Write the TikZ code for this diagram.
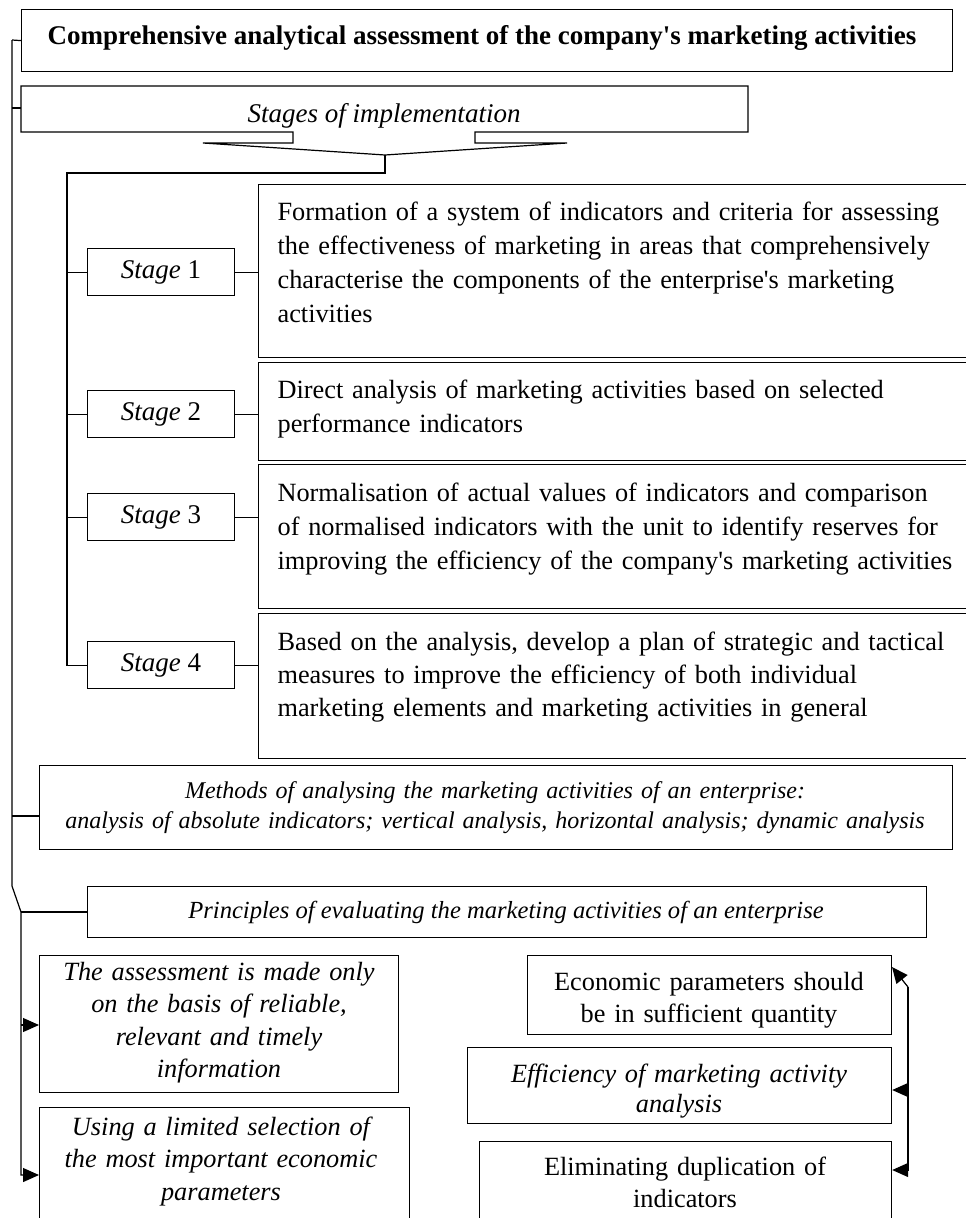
\documentclass[tikz,border=0pt]{standalone}
\usepackage{fontspec}
\setmainfont{Liberation Serif}
\usetikzlibrary{arrows.meta}
\newcommand{\ap}{\textquotesingle}
\begin{document}
\begin{tikzpicture}[x=1pt,y=-1pt,
  line width=1.2pt,
  box/.style={draw, line width=1.2pt, inner sep=0pt, anchor=north west},
  big/.style={inner sep=0pt, font=\fontsize{26.3}{34}\selectfont},
  mid/.style={inner sep=0pt, font=\fontsize{26.3}{32.5}\selectfont},
  small/.style={inner sep=0pt, font=\fontsize{24}{30}\selectfont\itshape},
  arr/.style={-{Triangle[length=16pt,width=14pt]}},
]
\useasboundingbox (0,0) rectangle (966,1218);
\clip (0,0) rectangle (966,1218);

% title
\node[box, minimum width=931, minimum height=62] (title) at (21,9) {};
\node[inner sep=0pt, font=\fontsize{27}{34}\selectfont\bfseries, anchor=base] (titleT) at (482,44)
  {Comprehensive analytical assessment of the company\ap s marketing activities};

% stages banner with its pointer
\coordinate (tip) at (385,155);
\draw (21,86) -- (748,86) -- (748,132) -- (475,132) -- (475,143) -- (567,143)
  -- (tip) -- (203,143) -- (293,143) -- (293,132) -- (21,132) -- cycle;
\node[inner sep=0pt, font=\fontsize{27}{34}\selectfont\itshape, anchor=base] (stagesT) at (384,122)
  {Stages of implementation};
\coordinate (stagesL) at (21,108);

% stage boxes
\node[box, big, font=\fontsize{27}{34}\selectfont, minimum width=147, minimum height=47] (s1) at (87,248) {\textit{Stage} 1};
\node[box, big, font=\fontsize{27}{34}\selectfont, minimum width=147, minimum height=47] (s2) at (87,390) {\textit{Stage} 2};
\node[box, big, font=\fontsize{27}{34}\selectfont, minimum width=147, minimum height=47] (s3) at (87,493) {\textit{Stage} 3};
\node[box, big, font=\fontsize{27}{34}\selectfont, minimum width=147, minimum height=47] (s4) at (87,641) {\textit{Stage} 4};

% stage descriptions
\node[box, minimum width=722, minimum height=173] (t1) at (258,184) {};
\node[box, minimum width=722, minimum height=98] (t2) at (258,362) {};
\node[box, minimum width=722, minimum height=144] (t3) at (258,464) {};
\node[box, minimum width=722, minimum height=145] (t4) at (258,613) {};

\node[big, text width=700, align=left, anchor=base west] (t1T) at (277,220)
  {Formation of a system of indicators and criteria for assessing\\
   the effectiveness of marketing in areas that comprehensively\\
   characterise the components of the enterprise\ap s marketing\\
   activities};
\node[big, text width=700, align=left, anchor=base west] (t2T) at (277,398)
  {Direct analysis of marketing activities based on selected\\
   performance indicators};
\node[big, text width=700, align=left, anchor=base west] (t3T) at (277,501)
  {Normalisation of actual values of indicators and comparison\\
   of normalised indicators with the unit to identify reserves for\\
   improving the efficiency of the company\ap s marketing activities};
\node[big, font=\fontsize{26.3}{33}\selectfont, text width=700, align=left, anchor=base west] (t4T) at (277,650)
  {Based on the analysis, develop a plan of strategic and tactical\\
   measures to improve the efficiency of both individual\\
   marketing elements and marketing activities in general};

% stage links
\foreach \i in {1,2,3,4} \draw (s\i.east) -- (s\i.east -| t\i.west);
\coordinate (busTop) at (67,173);
\draw (tip) |- (busTop) |- (s4.west);
\foreach \i in {1,2,3} \draw (busTop |- s\i.west) -- (s\i.west);

% methods and principles
\node[box, minimum width=913, minimum height=84] (meth) at (39,765) {};
\node[small, text width=900, align=center, anchor=base] (methT) at (495,798)
  {Methods of analysing the marketing activities of an enterprise:\\
   analysis of absolute indicators; vertical analysis, horizontal analysis; dynamic analysis};
\node[box, minimum width=839, minimum height=51] (prin) at (87,886) {};
\node[small, font=\fontsize{24.6}{30}\selectfont\itshape, anchor=base] (prinT) at (506,918)
  {Principles of evaluating the marketing activities of an enterprise};

% principles, left column
\node[box, minimum width=359, minimum height=137] (pa) at (39,955) {};
\node[mid, font=\fontsize{26.3}{32.5}\selectfont\itshape, text width=350, align=center, anchor=base] (paT) at (219,980)
  {The assessment is made only\\ on the basis of reliable,\\ relevant and timely\\ information};
\node[box, minimum width=370, minimum height=140] (pb) at (39,1107) {};
\node[mid, font=\fontsize{26.3}{32.5}\selectfont\itshape, text width=360, align=center, anchor=base] (pbT) at (221,1135)
  {Using a limited selection of\\ the most important economic\\ parameters};

% principles, right column
\node[box, minimum width=364, minimum height=79] (pc) at (527,955) {};
\node[mid, text width=360, align=center, anchor=base] (pcT) at (709,990)
  {Economic parameters should\\ be in sufficient quantity};
\node[box, minimum width=424, minimum height=76] (pd) at (467,1047) {};
\node[mid, font=\fontsize{26.3}{30}\selectfont\itshape, text width=420, align=center, anchor=base] (pdT) at (679,1082)
  {Efficiency of marketing activity\\ analysis};
\node[box, minimum width=412, minimum height=110] (pe) at (479,1141) {};
\node[mid, text width=400, align=center, anchor=base] (peT) at (685,1175)
  {Eliminating duplication of\\ indicators};

% main left spine
\coordinate (spTop) at (12,40);
\coordinate (spBend) at (12,886);
\coordinate (spFoot) at (21,912);
\coordinate (spEnd) at (21,1175);
\draw[arr] (spTop) -- (spBend) -- (spFoot) -- (spEnd) -- (spEnd -| pb.west);
\draw (spTop) -- (title.west);
\draw (spTop |- stagesL) -- (stagesL);
\draw (12,816) -- (12,816 -| meth.west);
\draw (spFoot) -- (spFoot -| prin.west);
\draw[arr] (21,1025) -- (21,1025 -| pa.west);

% right spine
\coordinate (rTop) at (908,987);
\coordinate (rEnd) at (908,1170);
\draw (rTop) -- (rEnd);
\draw[arr] (rEnd) -- (rEnd -| pe.east);
\draw[arr] (908,1090) -- (908,1090 -| pd.east);
\draw[arr] (rTop) -- (892,967);
\end{tikzpicture}
\end{document}
